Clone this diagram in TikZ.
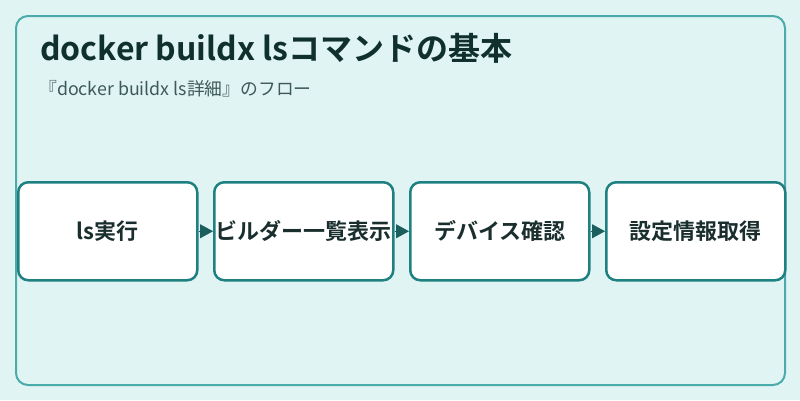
\documentclass[tikz,border=0pt]{standalone}
\usepackage{fontspec}
\setmainfont{Noto Sans CJK JP}
\newfontfamily\jpbold{Noto Sans CJK JP Bold}
\usetikzlibrary{arrows.meta}
\definecolor{bgc}{HTML}{E0F4F3}
\definecolor{framec}{HTML}{4AABAB}
\definecolor{boxc}{HTML}{1E8080}
\definecolor{arrc}{HTML}{1B5E5E}
\definecolor{titlec}{HTML}{10302E}
\definecolor{subc}{HTML}{3D5A5A}
\definecolor{txtc}{HTML}{1A2E2E}
\tikzset{
  stepbox/.style={draw=boxc, line width=2.5pt, rounded corners=10pt, fill=white,
    minimum width=179pt, minimum height=98pt, inner sep=0pt,
    font=\jpbold\fontsize{22}{25}\selectfont, text=txtc, anchor=north west},
  flow/.style={draw=arrc, line width=1pt, -{Triangle[length=13pt,width=14pt]}, arrc}
}
\begin{document}
\begin{tikzpicture}[x=1pt,y=-1pt]
\useasboundingbox (0,0) rectangle (800,400);
\fill[bgc] (0,0) rectangle (800,400);
\draw[framec, line width=2pt, rounded corners=12pt] (16,16) rectangle (785,385);
\node[anchor=base west, inner sep=0pt, text=titlec, font=\jpbold\fontsize{32}{36}\selectfont] (title) at (40,60) {docker buildx lsコマンドの基本};
\node[anchor=base west, inner sep=0pt, text=subc, font=\fontsize{17.8}{20}\selectfont] (sub) at (39,95) {『docker buildx ls詳細』のフロー};
\node[stepbox] (b1) at (17,181) {ls実行};
\node[stepbox] (b2) at (213,181) {ビルダー一覧表示};
\node[stepbox] (b3) at (409,181) {デバイス確認};
\node[stepbox] (b4) at (605,181) {設定情報取得};
\draw[flow] (b1.east) -- (b2.west);
\draw[flow] (b2.east) -- (b3.west);
\draw[flow] (b3.east) -- (b4.west);
\end{tikzpicture}
\end{document}
